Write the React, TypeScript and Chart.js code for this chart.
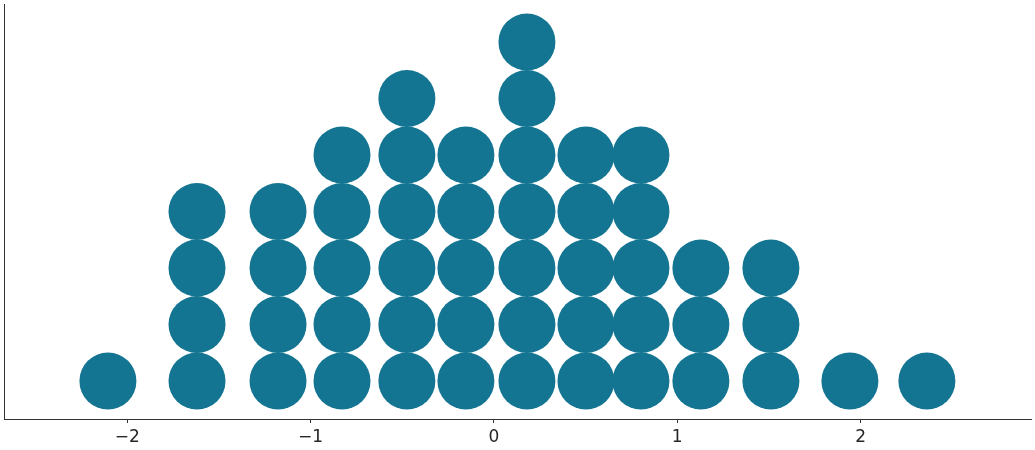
import React, { useEffect, useRef } from "react";
import { Chart, registerables } from "chart.js";
Chart.register(...registerables);

// column positions (x value) and number of stacked dots in each
const binCenters = [-2.106, -1.62, -1.178, -0.829, -0.475, -0.153, 0.18, 0.502, 0.802, 1.129, 1.511, 1.942, 2.362];
const binCounts = [1, 4, 4, 5, 6, 5, 7, 5, 5, 3, 3, 1, 1];
const xTicks = [-2, -1, 0, 1, 2];

const points: { x: number; y: number }[] = [];
binCenters.forEach((c, i) => {
  for (let k = 0; k < binCounts[i]; k++) points.push({ x: c, y: k });
});

export default function App() {
  const ref = useRef<HTMLCanvasElement | null>(null);
  useEffect(() => {
    document.body.style.margin = "0";
    const chart = new Chart(ref.current!, {
      type: "scatter",
      data: {
        datasets: [
          {
            data: points,
            backgroundColor: "#137591",
            borderWidth: 0,
            pointRadius: 28.5,
            pointHoverRadius: 28.5,
          },
        ],
      },
      options: {
        animation: false,
        responsive: false,
        layout: { autoPadding: false, padding: { top: 4, right: 4, left: 0, bottom: 0 } },
        plugins: { legend: { display: false }, tooltip: { enabled: false } },
        scales: {
          x: {
            type: "linear",
            min: -2.673,
            max: 2.93,
            afterBuildTicks: (s: any) => {
              s.ticks = xTicks.map((v) => ({ value: v }));
            },
            afterFit: (s: any) => {
              s.height = 31;
            },
            ticks: {
              autoSkip: false,
              maxRotation: 0,
              padding: 4,
              color: "#262626",
              font: { family: "DejaVu Sans", size: 17 },
              callback: (v: any) => String(v).replace("-", "\u2212"),
            },
            grid: { drawOnChartArea: false, drawTicks: true, tickLength: 4, color: "#333333", lineWidth: 1 },
            border: { display: true, color: "#333333", width: 1 },
          },
          y: {
            type: "linear",
            min: -0.673,
            max: 6.673,
            ticks: { display: false },
            afterFit: (s: any) => {
              s.width = 4;
            },
            grid: { display: false, drawTicks: false },
            border: { display: true, color: "#333333", width: 1 },
          },
        },
      },
    });
    return () => chart.destroy();
  }, []);
  return (
    <div style={{ position: "absolute", left: 0, top: 0, width: 1035, height: 450 }}>
      <canvas ref={ref} width={1035} height={450} />
    </div>
  );
}
